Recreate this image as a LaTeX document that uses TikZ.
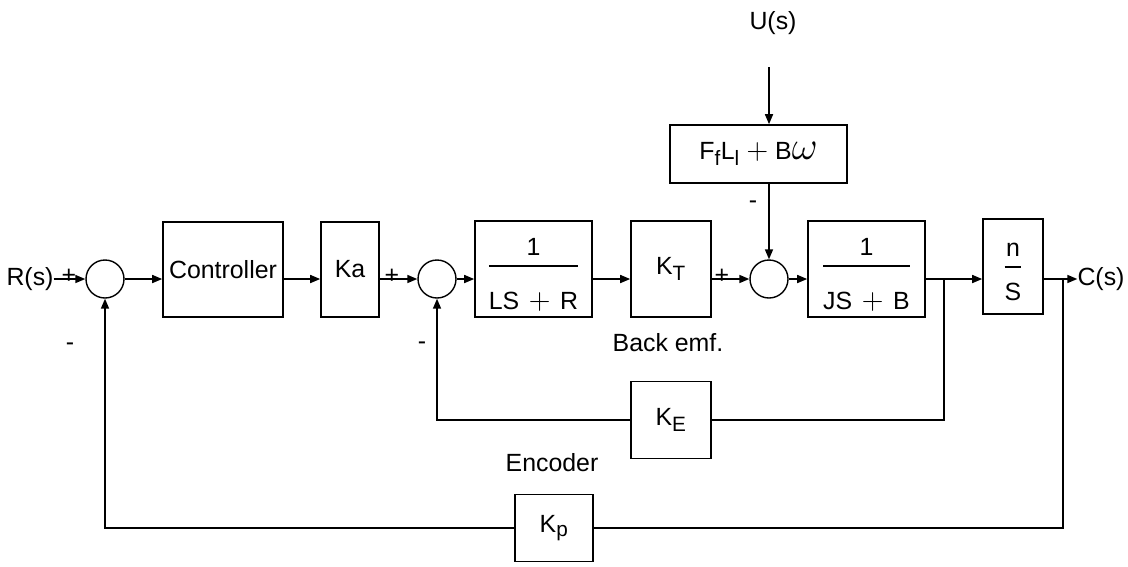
\RequirePackage{fix-cm}
\documentclass[tikz,border=0pt]{standalone}
\usepackage{amsmath}
\usepackage{fontspec}
\setmainfont{Liberation Sans}
\usetikzlibrary{arrows.meta, positioning, calc}

\newcommand{\bplus}{{\fontsize{30}{30}\selectfont$+$}}
\newcommand{\bomega}{{\fontsize{40}{40}\selectfont$\omega$}}

\tikzset{
  blk/.style={draw, line width=1.6pt, inner sep=0pt},
  fracbox/.style={blk, text height=51.25pt, text depth=44.75pt},
  sumnode/.style={draw, circle, line width=1.4pt, minimum size=38pt, inner sep=0pt},
  sig/.style={line width=1.6pt, -{Triangle[length=10pt,width=8pt]}},
  wire/.style={line width=1.6pt},
  sgn/.style={inner sep=0pt},
}

\begin{document}
\begin{tikzpicture}[x=1pt, y=-1pt, font=\fontsize{24.88}{30}\selectfont]
  \useasboundingbox (0,0) rectangle (1128,566);

  % forward path
  \node[inner sep=0pt] (rs) at (30,279) {R(s)};
  \node[sgn] at (69,276) {+};
  \node[sumnode] (s1) at (105,279) {};
  \node[blk, minimum width=120pt, minimum height=95pt] (ctrl) at (223,269.5) {Controller};
  \node[blk, minimum width=58pt, minimum height=95pt] (ka) at (350,269.5) {Ka};
  \node[sgn] at (392,276) {+};
  \node[sumnode] (s2) at (437,279) {};
  \node[fracbox, minimum width=117pt] (g1) at (533.5,269)
    {$\genfrac{}{}{1.6pt}{0}{\text{1}}{\rule{0pt}{38pt}\text{LS\,}\mathbin{\text{\bplus}}\text{\,R}}$};
  \node[blk, minimum width=80pt, minimum height=96pt] (kt) at (671,269) {K\textsubscript{T}};
  \node[sgn] at (722,276) {+};
  \node[sumnode] (s3) at (769,279) {};
  \node[fracbox, minimum width=117pt] (g2) at (866.5,269)
    {$\genfrac{}{}{1.6pt}{0}{\text{1}}{\rule{0pt}{38pt}\text{JS\,}\mathbin{\text{\bplus}}\text{\,B}}$};
  \coordinate (b1) at (944,279);
  \node[blk, minimum width=60pt, text height=54.25pt, text depth=40.75pt] (ns) at (1013,266.5)
    {$\genfrac{}{}{1.6pt}{0}{\text{n}}{\rule{0pt}{28pt}\text{S}}$};
  \coordinate (b2) at (1063,279);
  \node[inner sep=0pt] (cs) at (1101,279) {C(s)};

  % disturbance
  \node[inner sep=0pt] (us) at (773,23) {U(s)};
  \coordinate (utop) at (769,67);
  \node[blk, minimum width=177pt, minimum height=58pt] (fb) at (758.5,154)
    {F\textsubscript{f}L\textsubscript{l} \bplus{} B\bomega};
  \node[sgn] at (753,205) {-};

  % feedback
  \node[blk, minimum width=80pt, minimum height=77pt] (ke) at (671,420) {K\textsubscript{E}};
  \node[blk, minimum width=78pt, minimum height=67pt] (kp) at (554,528) {K\textsubscript{p}};
  \node (emf) at (668,343) {Back emf.};
  \node (enc) at (552,463) {Encoder};
  \node[sgn] at (70,347) {-};
  \node[sgn] at (422,346) {-};

  \draw[sig] (rs.east) -- (s1.west);
  \draw[sig] (s1.east) -- (s1.east -| ctrl.west);
  \draw[sig] (ctrl.east |- s1) -- (ka.west |- s1);
  \draw[sig] (ka.east |- s2) -- (s2.west);
  \draw[sig] (s2.east) -- (s2.east -| g1.west);
  \draw[sig] (g1.east |- s2) -- (kt.west |- s2);
  \draw[sig] (kt.east |- s3) -- (s3.west);
  \draw[sig] (s3.east) -- (s3.east -| g2.west);
  \draw[sig] (g2.east |- b1) -- (b1) -- (ns.west |- b1);
  \draw[sig] (ns.east |- b2) -- (cs.west);
  \draw[sig] (utop) -- (utop |- fb.north);
  \draw[sig] (s3 |- fb.south) -- (s3.north);
  \draw[wire] (b1) |- (ke.east);
  \draw[sig] (ke.west) -| (s2.south);
  \draw[wire] (b2) |- (kp.east);
  \draw[sig] (kp.west) -| (s1.south);
\end{tikzpicture}
\end{document}
